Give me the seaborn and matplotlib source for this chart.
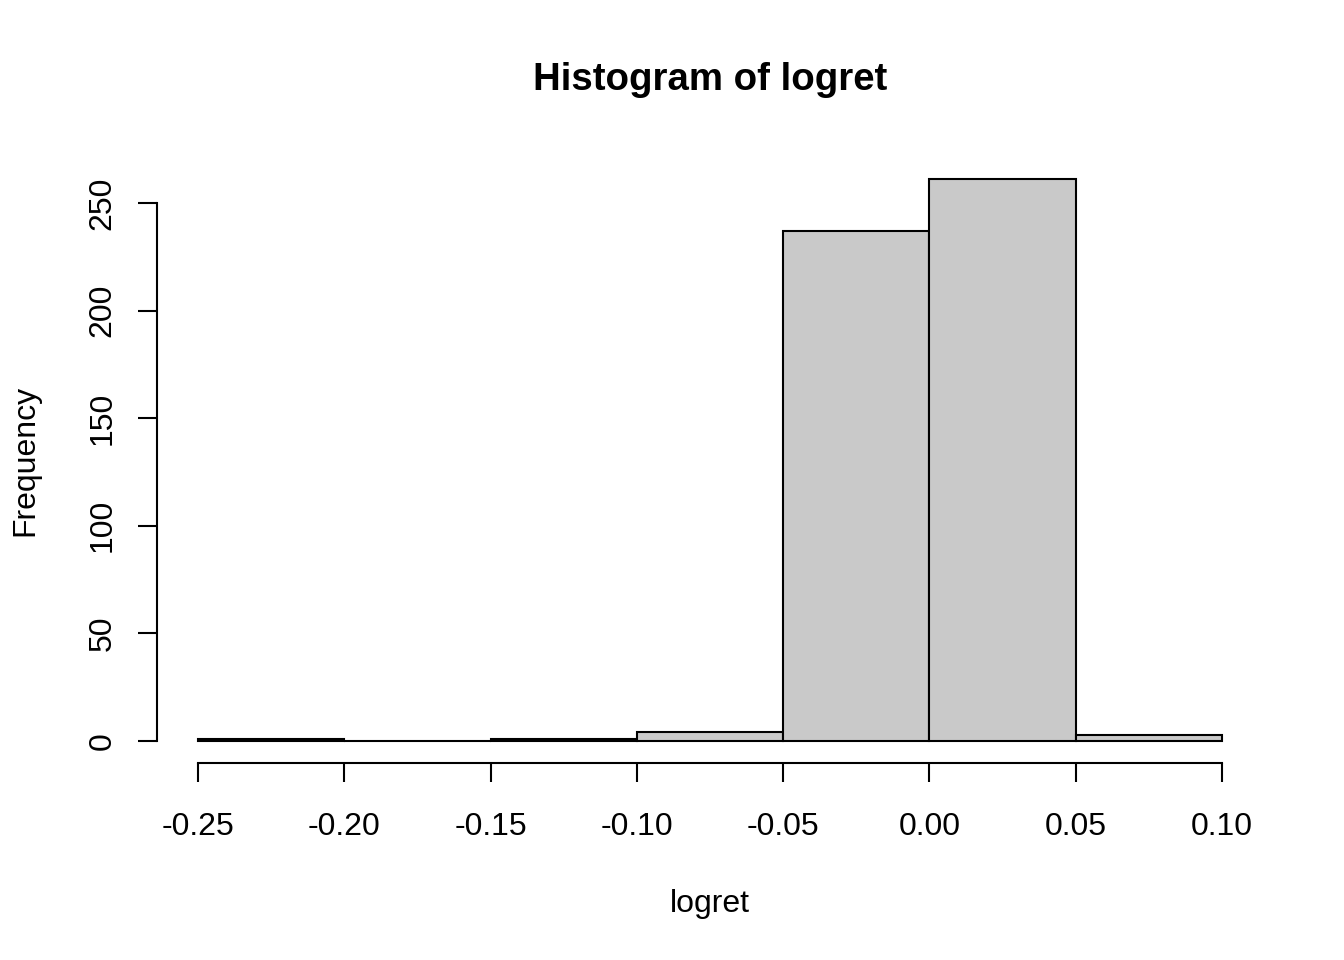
import matplotlib
matplotlib.use("Agg")
import matplotlib.pyplot as plt
import numpy as np
import seaborn as sns

# histogram of log returns (bins of width 0.05)
bin_edges = [-0.25, -0.20, -0.15, -0.10, -0.05, 0.00, 0.05, 0.10]
counts = [1, 0, 1, 4, 237, 261, 3]
x_ticks = [-0.25, -0.20, -0.15, -0.10, -0.05, 0.00, 0.05, 0.10]
y_ticks = [0, 50, 100, 150, 200, 250]

centers = [(a + b) / 2 for a, b in zip(bin_edges[:-1], bin_edges[1:])]

sns.set_style("white")
plt.rcParams['font.family'] = ['Liberation Sans', 'DejaVu Sans']
plt.rcParams['text.color'] = 'black'
plt.rcParams['axes.labelcolor'] = 'black'
plt.rcParams['xtick.color'] = 'black'
plt.rcParams['ytick.color'] = 'black'

fig = plt.figure(figsize=(6.72, 4.8), dpi=200)
ax = fig.add_axes([0.1168, 0.2047, 0.8229, 0.6318])

sns.histplot(x=centers, weights=counts, bins=bin_edges, stat="count",
             color="#c9c9c9", edgecolor="black", linewidth=0.75, alpha=1, ax=ax)

ax.set_xlim(-0.264, 0.114)
ax.set_ylim(-10.44, 271.44)
ax.set_xticks(x_ticks)
ax.set_xticklabels([f"{v:.2f}" for v in x_ticks])
ax.set_yticks(y_ticks)
ax.set_yticklabels([str(v) for v in y_ticks], rotation=90, va="center")

for s in ["top", "right"]:
    ax.spines[s].set_visible(False)
for s in ["left", "bottom"]:
    ax.spines[s].set_linewidth(0.75)
    ax.spines[s].set_color("black")
ax.spines["bottom"].set_bounds(-0.25, 0.10)
ax.spines["left"].set_bounds(0, 250)

ax.tick_params(axis="both", direction="out", length=6.8, width=0.75,
               color="black", labelsize=11.5, bottom=True, left=True)
ax.tick_params(axis="x", pad=10.8)
ax.tick_params(axis="y", pad=7.5)

ax.set_xlabel("logret", fontsize=11.5, va="center")
ax.set_ylabel("Frequency", fontsize=11.5, va="center")
ax.xaxis.set_label_coords(0.5, -0.231)
ax.yaxis.set_label_coords(-0.119, 0.5)
ax.set_title("Histogram of logret", fontsize=13.8, fontweight="bold",
             y=1.127, pad=0, va="center", color="black")

fig.savefig("out.png", dpi=200)
